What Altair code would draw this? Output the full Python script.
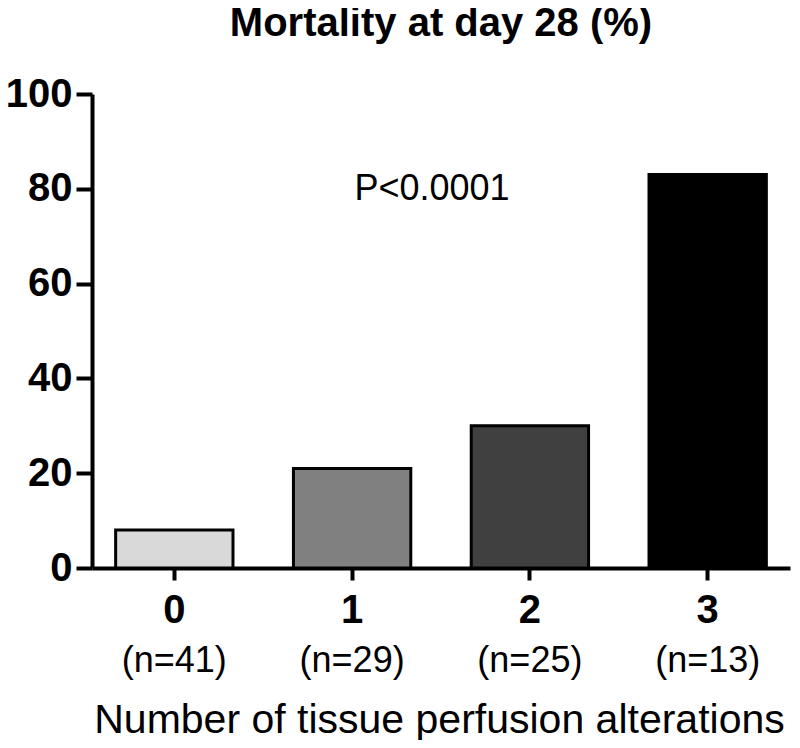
import altair as alt
import pandas as pd

categories = ["0", "1", "2", "3"]
mortality = [8, 21, 30, 83]
n_labels = ["(n=41)", "(n=29)", "(n=25)", "(n=13)"]
bar_colors = ["#d9d9d9", "#808080", "#404040", "#000000"]
y_ticks = [0, 20, 40, 60, 80, 100]
p_text = ["P<0.0001"]
p_level = [80]

df = pd.DataFrame({"cat": categories, "mort": mortality, "n": n_labels})
pdf = pd.DataFrame({"t": p_text, "y": p_level})

W, H = 698, 474
FONT = "Liberation Sans"

x_enc = alt.X(
    "cat:N",
    sort=categories,
    scale=alt.Scale(paddingInner=0.34, paddingOuter=0.133),
    axis=alt.Axis(
        title="Number of tissue perfusion alterations",
        labelAngle=0, labelFontSize=40, labelFontWeight="bold", labelFont=FONT,
        labelBaseline="alphabetic", labelPadding=42, labelColor="black",
        tickSize=12, tickWidth=4, tickColor="black",
        domainWidth=4, domainColor="black", grid=False,
        titleFont=FONT, titleFontSize=41, titleFontWeight="normal",
        titleBaseline="alphabetic", titleX=W / 2 - 2, titleY=164, titleAlign="center",
        titleColor="black",
    ),
)

y_enc = alt.Y(
    "mort:Q",
    scale=alt.Scale(domain=[0, 100], nice=False),
    axis=alt.Axis(
        values=y_ticks, title=None, grid=False,
        labelFontSize=40, labelFontWeight="bold", labelFont=FONT, labelColor="black",
        labelPadding=4, tickSize=16, tickWidth=4, tickColor="black",
        domainWidth=4, domainColor="black",
    ),
)

bars = alt.Chart(df).mark_bar(stroke="black", strokeWidth=3).encode(
    x=x_enc,
    y=y_enc,
    color=alt.Color("cat:N", scale=alt.Scale(domain=categories, range=bar_colors), legend=None),
)

ntext = alt.Chart(df).mark_text(fontSize=36, font=FONT, baseline="alphabetic", color="black").encode(
    x=x_enc,
    y=alt.value(H + 104),
    text="n:N",
)

ptext = alt.Chart(pdf).mark_text(fontSize=36, font=FONT, baseline="middle", color="black").encode(
    x=alt.value(340),
    y=alt.Y("y:Q"),
    text="t:N",
)

chart = alt.layer(bars, ntext, ptext).properties(
    width=W,
    height=H,
    background="white",
    title=alt.Title(
        "Mortality at day 28 (%)", fontSize=40, font=FONT, fontWeight="bold",
        anchor="middle", frame="group", baseline="alphabetic", offset=-2, color="black",
    ),
    autosize=alt.AutoSizeParams(type="none"),
    padding={"left": 84, "top": 86, "right": 2, "bottom": 172},
).configure_view(stroke=None).configure_axis(grid=False)

chart.save("out.html", embed_options={"renderer": "svg", "actions": False})
